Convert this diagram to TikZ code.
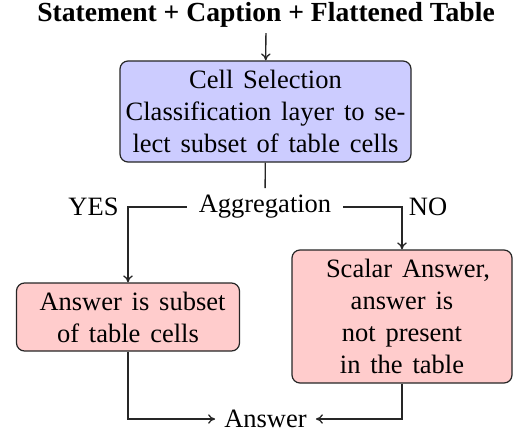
\documentclass[tikz,border=0pt]{standalone}
\usepackage{fontspec}
\setmainfont{Liberation Serif}
\usetikzlibrary{arrows.meta}
\begin{document}
\begin{tikzpicture}[x=1pt,y=1pt,
  txt/.style={font=\fontsize{26.5}{32}\selectfont, inner sep=3pt},
  box/.style={font=\fontsize{26.5}{32}\selectfont,
    execute at begin node={\spaceskip=9.8pt plus 2pt\relax},
    draw=black!85, line width=1.2pt, rounded corners=8pt, align=center, inner sep=3pt},
  bluebox/.style={box, fill=blue!20},
  pinkbox/.style={box, fill=red!20},
  link/.style={line width=1.3pt, black!85},
  arr/.style={link, -{To[length=7pt,width=9.5pt]}}]
  \useasboundingbox (0,0) rectangle (513,432);

  % input line
  \node[font=\fontsize{27.6}{33}\selectfont\bfseries, inner sep=5pt, anchor=base] (in) at (266,410)
    {Statement + Caption + Flattened Table};

  % cell selection block
  \node[bluebox, minimum width=291pt, minimum height=101pt] (sel) at (265.5,320.5)
    {Cell Selection\\Classification layer to se-\\lect subset of table cells};

  % aggregation decision
  \node[txt, inner xsep=12pt, inner ysep=7pt] (agg) at (265,225) {Aggregation};
  \coordinate (yc) at (128,225);
  \coordinate (nc) at (402,225);
  \node[txt] (yes) at (93.5,225) {YES};
  \node[txt] (no) at (428,225) {NO};

  % outcome blocks
  \node[pinkbox, minimum width=223pt, minimum height=68pt] (sub) at (128,115)
    {\hspace*{9pt}Answer is subset\\of table cells};
  \node[pinkbox, minimum width=220pt, minimum height=133pt] (sca) at (402,115.5)
    {\hspace*{12pt}Scalar Answer,\\answer is\\not present\\in the table};

  % final answer
  \node[txt, inner xsep=9pt] (ans) at (265.5,13) {Answer};

  % connectors
  \draw[arr] (in) -- (sel);
  \draw[link] (sel) -- (agg);
  \draw[arr] (agg.west) -- (yc) -- (sub.north);
  \draw[arr] (agg.east) -- (nc) -- (sca.north);
  \draw[arr] (sub.south) |- (ans.west);
  \draw[arr] (sca.south) |- (ans.east);
\end{tikzpicture}
\end{document}
